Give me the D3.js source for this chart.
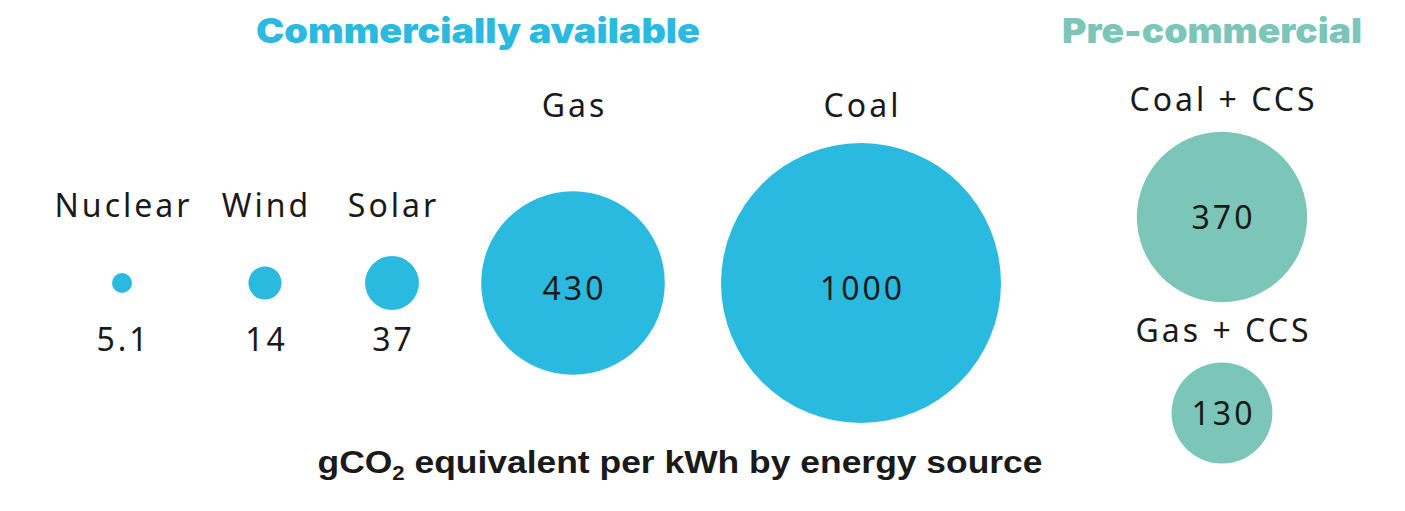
<html>
<script src='https://d3js.org/d3.v7.min.js'></script>
<style>
body {margin:0; background:#fff;}
text {font-family: 'Noto Sans', sans-serif; fill:#1a1a1a;}
.lbl {font-size:32px; letter-spacing:3px;}
.head {font-family: Inter, sans-serif; font-weight:900; font-size:34px;}
.cap {font-family: 'Liberation Sans Narrow', 'Liberation Sans', Arial, sans-serif; font-weight:bold; font-size:32px;}
</style>
<body>
<svg width=1405 height=511></svg>
<script>
// commercially available sources, gCO2e per kWh
var commNames = ['Nuclear','Wind','Solar','Gas','Coal'];
var commValues = [5.1, 14, 37, 430, 1000];
var commLabels = ['5.1','14','37','430','1000'];

// pre-commercial sources
var preNames = ['Coal + CCS','Gas + CCS'];
var preValues = [370, 130];
var preLabels = ['370','130'];

var blue = '#2bbadf', teal = '#7bc6b9';

var svg = d3.select('svg');

// circle area ~ value
var rs = d3.scaleSqrt().domain([0,1000]).range([0,140]);
var xs = d3.scaleOrdinal().domain(commNames).range([122,265,392,573,861]);
var ys = d3.scaleOrdinal().domain(preNames).range([217,413]);
var rowY = 283;
var ls = 1.5; // half the letter spacing, to re-centre labels

var comm = commNames.map(function(n,i){return {name:n, value:commValues[i], label:commLabels[i]};});
var pre = preNames.map(function(n,i){return {name:n, value:preValues[i], label:preLabels[i]};});

var g1 = svg.append('g');
g1.selectAll('circle').data(comm).enter().append('circle')
  .attr('cx', function(d){return xs(d.name);})
  .attr('cy', rowY)
  .attr('r', function(d){return rs(d.value);})
  .attr('fill', blue);

// names: small ones on the lower row, big ones up top
g1.selectAll('text.name').data(comm).enter().append('text')
  .attr('class','lbl name')
  .attr('text-anchor','middle')
  .attr('x', function(d){return xs(d.name) + ls;})
  .attr('y', function(d){return rs(d.value) > 40 ? 117 : 217;})
  .text(function(d){return d.name;});

g1.selectAll('text.val').data(comm).enter().append('text')
  .attr('class','lbl val')
  .attr('text-anchor','middle')
  .attr('x', function(d){return xs(d.name) + ls;})
  .attr('y', function(d){return rs(d.value) > 40 ? rowY + 17 : 351;})
  .text(function(d){return d.label;});

var px = 1222;
var g2 = svg.append('g');
g2.selectAll('circle').data(pre).enter().append('circle')
  .attr('cx', px)
  .attr('cy', function(d){return ys(d.name);})
  .attr('r', function(d){return rs(d.value);})
  .attr('fill', teal);

g2.selectAll('text.name').data(pre).enter().append('text')
  .attr('class','lbl name')
  .attr('text-anchor','middle')
  .attr('x', px + ls)
  .attr('y', function(d){return ys(d.name) - rs(d.value) - 21;})
  .text(function(d){return d.name;});

g2.selectAll('text.val').data(pre).enter().append('text')
  .attr('class','lbl val')
  .attr('text-anchor','middle')
  .attr('x', px + ls)
  .attr('y', function(d){return ys(d.name) + 12;})
  .text(function(d){return d.label;});

// headings
svg.append('text').attr('class','head').attr('text-anchor','middle')
  .attr('x',478).attr('y',43).style('fill',blue)
  .attr('textLength',444).attr('lengthAdjust','spacingAndGlyphs')
  .text('Commercially available');
svg.append('text').attr('class','head').attr('text-anchor','middle')
  .attr('x',1212).attr('y',43).style('fill',teal)
  .attr('textLength',300).attr('lengthAdjust','spacingAndGlyphs')
  .text('Pre-commercial');

// caption with subscript 2
var cap = svg.append('text').attr('class','cap').attr('text-anchor','middle')
  .attr('x',680).attr('y',473)
  .attr('textLength',725).attr('lengthAdjust','spacingAndGlyphs');
cap.append('tspan').text('gCO');
cap.append('tspan').attr('dy',7).style('font-size','20px').text('2');
cap.append('tspan').attr('dy',-7).text(' equivalent per kWh by energy source');
</script>
</body>
</html>
